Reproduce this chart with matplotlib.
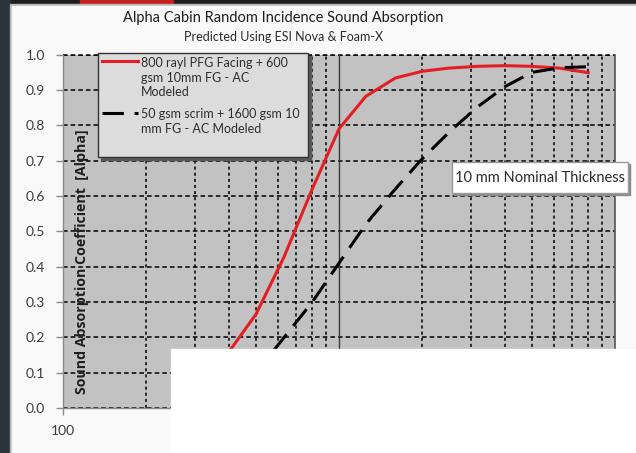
import matplotlib
matplotlib.use('Agg')
import matplotlib.pyplot as plt
from matplotlib.patches import Rectangle
from matplotlib.lines import Line2D
from matplotlib.ticker import LogLocator, NullFormatter

plt.rcParams['font.family'] = ['Lato', 'DejaVu Sans']

# third-octave band centre frequencies (Hz) and predicted absorption
freq = [400, 500, 630, 800, 1000, 1250, 1600, 2000, 2500, 3150, 4000, 5000, 6300, 8000]
alpha_pfg = [0.16, 0.265, 0.425, 0.62, 0.79, 0.882, 0.934, 0.953, 0.962, 0.967, 0.969, 0.967, 0.962, 0.949]
alpha_scrim = [0.03, 0.10, 0.198, 0.30, 0.41, 0.52, 0.62, 0.705, 0.78, 0.85, 0.91, 0.95, 0.963, 0.966]

y_ticks = [0.0, 0.1, 0.2, 0.3, 0.4, 0.5, 0.6, 0.7, 0.8, 0.9, 1.0]
x_ticks = [100, 1000, 10000]
x_labels = ['100', '1000', '10000']

title = 'Alpha Cabin Random Incidence Sound Absorption'
subtitle = 'Predicted Using ESI Nova & Foam-X'
ylabel = 'Sound Absorption Coefficient  [Alpha]'
label_pfg = '800 rayl PFG Facing + 600\ngsm 10mm FG - AC\nModeled'
label_scrim = '50 gsm scrim + 1600 gsm 10\nmm FG - AC Modeled'
note = '10 mm Nominal Thickness'

RED = '#e31e24'
DASH = (0, (7, 3.5))
BOLDFONT = ['Open Sans', 'DejaVu Sans']

W, H = 636, 453
fig = plt.figure(figsize=(W / 100, H / 100), dpi=100)
fig.patch.set_facecolor('#f9f9f9')


def fx(x):
    return x / W


def fy(y):
    return 1 - y / H


def box(x0, y0, x1, y1, **kw):
    # rectangle given in screen pixels (origin top-left)
    r = Rectangle((fx(x0), fy(y1)), (x1 - x0) / W, (y1 - y0) / H,
                  transform=fig.transFigure, **kw)
    fig.add_artist(r)
    return r


# bits of the desktop around the screenshot
box(0, 0, W, 4, color='#1e1e1e', zorder=-2)
box(80, 0, 173, 3, color='#c4221c', zorder=-1)
box(0, 0, 10, H, color='#2b333d', zorder=-1)
box(10, 4, W + 5, H + 5, facecolor='none', edgecolor='#b8b8b8', lw=1, zorder=-1)

ax = fig.add_axes([63 / W, fy(408), 552 / W, (408 - 54.7) / H])
ax.set_facecolor('#c2c2c2')
ax.set_xscale('log')
ax.set_xlim(100, 10000)
ax.set_ylim(0, 1)

ax.plot(freq, alpha_pfg, color=RED, lw=2.2, zorder=4)
ax.plot(freq, alpha_scrim, color='black', lw=2.2, linestyle=DASH, zorder=4)

ax.set_yticks(y_ticks)
ax.set_yticklabels([f'{v:.1f}' for v in y_ticks])
ax.set_xticks(x_ticks)
ax.set_xticklabels(x_labels)
ax.xaxis.set_minor_locator(LogLocator(base=10, subs=range(2, 10)))
ax.xaxis.set_minor_formatter(NullFormatter())

ax.grid(True, which='minor', axis='x', color='black', lw=1.1, linestyle=(0, (2, 2)))
ax.grid(True, which='major', axis='y', color='black', lw=1.1, linestyle=(0, (3, 2)))
ax.axhline(1.0, color='black', lw=1.1, linestyle=(0, (3, 2)), clip_on=False)
ax.axvline(1000, color='#3a3a3a', lw=1.0)

ax.tick_params(axis='y', length=5, width=1, color='#8a8a8a', pad=8,
               labelsize=10, labelcolor='#3c3c3c')
ax.tick_params(axis='x', which='major', length=5, width=1, color='#8a8a8a',
               pad=7, labelsize=10, labelcolor='#3c3c3c')
ax.tick_params(axis='x', which='minor', length=0)

ax.spines['top'].set_visible(False)
ax.spines['right'].set_color('#555555')
ax.spines['right'].set_linewidth(1.2)
for s in ['left', 'bottom']:
    ax.spines[s].set_color('#8a8a8a')
    ax.spines[s].set_linewidth(1.0)

fig.text(fx(82), fy(262), ylabel, rotation=90, ha='center', va='center',
         fontsize=10.2, family=BOLDFONT, weight='bold', color='#1e1e1e', zorder=5)

fig.text(fx(283), fy(18), title, ha='center', va='center', fontsize=10.5, color='#1e1e1e')
fig.text(fx(284), fy(37), subtitle, ha='center', va='center', fontsize=9, color='#2a2a2a')

# legend box
box(100.7, 56.3, 311.3, 159.7, color='#5a5a5a', zorder=10)
box(97.7, 53.3, 308.3, 156.7, facecolor='#dcdcdc', edgecolor='#333333', lw=1, zorder=11)
fig.add_artist(Line2D([fx(101.7), fx(138)], [fy(60.7)] * 2, transform=fig.transFigure,
                      color=RED, lw=2.2, zorder=12))
fig.add_artist(Line2D([fx(101.7), fx(138)], [fy(113.3)] * 2, transform=fig.transFigure,
                      color='black', lw=2.2, linestyle=DASH, zorder=12))
fig.text(fx(141), fy(77.8), label_pfg, ha='left', va='center', fontsize=9,
         linespacing=1.25, color='#2e2e2e', zorder=13)
fig.text(fx(141), fy(121.7), label_scrim, ha='left', va='center', fontsize=9,
         linespacing=1.25, color='#2e2e2e', zorder=13)

# thickness note
box(453.7, 163.7, 630.3, 195.3, color='#8a8a8a', zorder=10)
box(451.7, 161.7, 628.3, 193.3, facecolor='white', edgecolor='#9a9a9a', lw=1, zorder=11)
fig.text(fx(540), fy(177.5), note, ha='center', va='center', fontsize=10.5,
         color='#2a2a2a', zorder=13)

# white panel pasted over the lower right of the screenshot
box(171, 349, W + 2, H + 2, color='white', zorder=20)

fig.savefig('out.png', dpi=100, facecolor=fig.get_facecolor())
